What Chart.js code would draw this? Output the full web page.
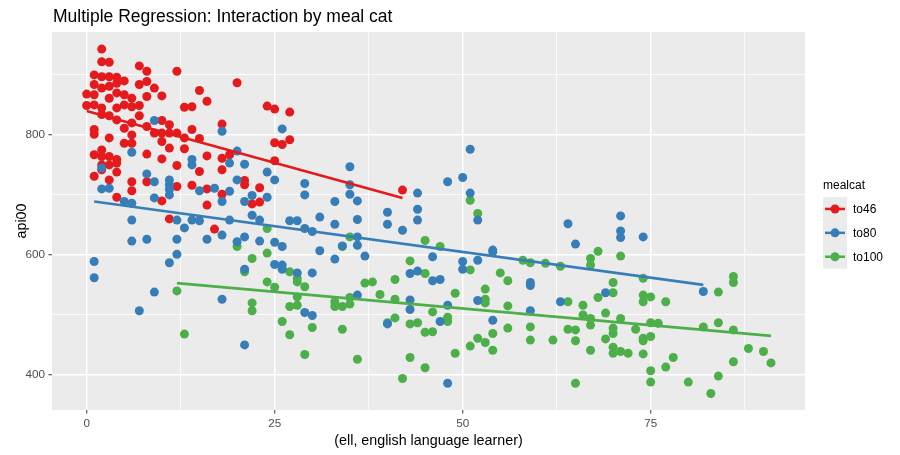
<!DOCTYPE html>
<html>
<head>
<meta charset="utf-8">
<title>Multiple Regression: Interaction by meal cat</title>
<script src="https://cdn.jsdelivr.net/npm/chart.js@4.4.0/dist/chart.umd.min.js"></script>
<style>
  html, body { margin: 0; padding: 0; background: #fff; }
  canvas { display: block; }
</style>
</head>
<body>
<canvas id="regChart" width="900" height="455"></canvas>
<script>
// api00 against ell (english language learners), one group per meal category
const groups = ['to46', 'to80', 'to100'];
const groupColors = ['#E41A1C', '#377EB8', '#4DAF4A'];

const to46Ell = [2, 2, 3, 7, 8, 12, 1, 2, 3, 4, 5, 7, 8, 9, 10, 8, 0, 0, 1, 1,
  1, 2, 3, 4, 4, 5, 6, 5, 6, 3, 2, 4, 7, 13, 7, 2, 3, 4, 10, 11,
  6, 5, 6, 8, 9, 10, 11, 12, 13, 1, 1, 3, 5, 6, 10, 11, 2, 1, 2, 3,
  4, 3, 4, 2, 8, 10, 12, 2, 4, 1, 3, 8, 6, 6, 4, 10,
  20, 15, 16, 14, 24, 25, 27, 14, 18, 15, 25, 26, 27, 13, 16, 18, 19, 18, 15, 25,
  12, 14, 16, 21, 21, 23, 18, 16, 22, 23, 11, 17, 42];
const to46Api = [942, 921, 920, 914, 905, 905, 899, 896, 896, 895, 889, 883, 888, 877, 864, 863, 867, 848, 883, 866,
  849, 877, 880, 885, 869, 866, 860, 849, 846, 860, 844, 844, 848, 845, 831, 833, 831, 824, 823, 816,
  819, 810, 799, 813, 802, 802, 802, 802, 794, 808, 800, 794, 785, 785, 788, 777, 774, 766, 763, 763,
  758, 749, 752, 749, 767, 759, 748, 741, 737, 730, 724, 721, 721, 706, 695, 689,
  886, 873, 855, 846, 847, 842, 837, 808, 817, 793, 786, 783, 791, 776, 764, 760, 766, 741, 738, 756,
  713, 715, 709, 723, 716, 711, 700, 682, 684, 687, 659, 642, 707];

const to80Ell = [9, 2, 8, 9, 11, 11, 11, 11, 2, 3, 9, 5, 6, 6,
  18, 26, 20, 14, 14, 19, 21, 24, 25, 20, 29, 17, 15, 19, 22, 24, 29, 18, 21,
  6, 12, 14, 15, 13, 19, 22, 23, 27, 28, 31, 29, 30, 6, 8, 12, 16, 18, 20, 21,
  23, 25, 26, 31, 1, 1, 12, 11, 21, 25, 26, 26, 28, 30, 9, 7, 18, 29, 30, 21,
  51, 35, 50, 48, 35, 35, 44, 33, 36, 51, 44, 40, 36, 44, 33, 40, 42, 52, 64, 36,
  36, 34, 54, 33, 37, 46, 43, 44, 46, 47, 50, 50, 52, 54, 59, 59, 36, 43, 43, 48,
  52, 59, 63, 47, 54, 40, 48, 71, 71, 71, 74, 65, 69, 82];
const to80Api = [823, 744, 734, 721, 724, 716, 708, 699, 709, 710, 694, 688, 685, 770,
  805, 809, 772, 758, 749, 752, 750, 737, 724, 724, 718, 710, 706, 705, 698, 695, 699, 688, 688,
  657, 657, 657, 656, 644, 657, 665, 657, 656, 656, 662, 643, 638, 622, 625, 625, 625, 632, 621, 629,
  622, 620, 613, 606, 588, 561, 600, 586, 575, 583, 582, 575, 569, 569, 537, 506, 525, 503, 498, 449,
  775, 746, 728, 721, 716, 700, 702, 688, 689, 702, 675, 670, 658, 657, 650, 650, 640, 657, 651, 629,
  615, 614, 607, 592, 597, 596, 568, 572, 556, 558, 588, 575, 590, 604, 553, 548, 532, 524, 508, 515,
  523, 506, 521, 488, 490, 484, 385, 664, 639, 628, 629, 617, 536, 538];

const to100Ell = [24, 20, 24, 22, 21, 27, 28, 28, 24, 25, 29, 12, 28, 22, 22, 27, 28, 26, 30, 27,
  13, 29, 51, 52, 35, 34, 45, 47,
  43, 45, 51, 55, 56, 58, 59, 61, 63, 37, 38, 41, 39, 49, 53, 33, 33, 34, 35, 35,
  41, 53, 53, 56, 46, 41, 40, 43, 44, 48, 48, 34, 45, 46, 54, 56, 59, 59, 62, 52,
  53, 51, 54, 49, 36, 43, 45, 42, 68, 67, 67, 71, 86,
  70, 70, 74, 86, 68, 64, 66, 74, 74, 75, 77, 84, 66, 67, 67, 69, 71, 64, 65, 70,
  70, 73, 75, 76, 82, 84, 86, 65, 69, 74, 74, 75, 67, 70, 70, 71, 72, 74, 88, 90,
  91, 86, 78, 75, 77, 84, 65, 75, 80, 83];
const to100Api = [643, 613, 602, 593, 571, 571, 560, 554, 554, 545, 546, 539, 529, 519, 506, 513, 515, 488, 478, 466,
  467, 433, 690, 668, 629, 613, 623, 613,
  589, 568, 574, 569, 556, 590, 586, 585, 580, 552, 554, 558, 533, 535, 542, 521, 513, 513, 528, 517,
  525, 525, 519, 514, 504, 494, 486, 484, 486, 495, 488, 475, 470, 471, 468, 477, 479, 457, 457, 460,
  453, 447, 440, 435, 425, 428, 411, 393, 605, 593, 582, 597, 563,
  553, 536, 560, 553, 528, 521, 515, 532, 521, 529, 521, 537, 499, 493, 482, 502, 493, 475, 474, 477,
  468, 475, 486, 485, 479, 486, 474, 456, 459, 460, 456, 463, 440, 445, 435, 438, 435, 434, 443, 438,
  419, 421, 428, 406, 412, 397, 385, 387, 387, 368];

// fitted lm lines (end points)
const to46FitEll = [0, 42];
const to46FitApi = [839, 694];
const to80FitEll = [1, 82];
const to80FitApi = [688, 549];
const to100FitEll = [12, 91];
const to100FitApi = [552, 464];

const xMajor = [0, 25, 50, 75];
const xMinor = [12.5, 37.5, 62.5, 87.5];
const yMajor = [400, 600, 800];
const yMinor = [500, 700, 900];

const FONT = '"Liberation Sans", Arial, sans-serif';

function toPoints(xs, ys) {
  return xs.map((x, i) => ({ x: x, y: ys[i] }));
}

function pointSet(label, xs, ys, color) {
  return {
    label: label,
    data: toPoints(xs, ys),
    backgroundColor: color,
    borderWidth: 0,
    pointRadius: 4.5,
    pointHoverRadius: 4.5,
    order: 1
  };
}

function lineSet(label, xs, ys, color) {
  return {
    label: label + ' fit',
    data: toPoints(xs, ys),
    showLine: true,
    borderColor: color,
    borderWidth: 2.6,
    pointRadius: 0,
    fill: false,
    order: 0
  };
}

function tickList(major, minor) {
  return major.concat(minor).sort((a, b) => a - b).map(v => ({ value: v }));
}

// panel background, title, axis titles and the legend (ggplot look)
const ggDecor = {
  id: 'ggDecor',
  beforeDraw(chart) {
    const { ctx, chartArea: a } = chart;
    ctx.save();
    ctx.fillStyle = '#EBEBEB';
    ctx.fillRect(a.left, a.top, a.right - a.left, a.bottom - a.top);
    ctx.restore();
  },
  afterDraw(chart) {
    const { ctx, chartArea: a } = chart;
    ctx.save();
    ctx.fillStyle = '#000';
    ctx.textAlign = 'left';
    ctx.textBaseline = 'alphabetic';
    ctx.font = '17.5px ' + FONT;
    ctx.fillText('Multiple Regression: Interaction by meal cat', a.left + 1, 21.5);

    ctx.font = '14.3px ' + FONT;
    ctx.textAlign = 'center';
    ctx.fillText('(ell, english language learner)', (a.left + a.right) / 2, 445);
    ctx.save();
    ctx.translate(26, (a.top + a.bottom) / 2);
    ctx.rotate(-Math.PI / 2);
    ctx.fillText('api00', 0, 0);
    ctx.restore();

    // legend
    ctx.textAlign = 'left';
    ctx.font = '12px ' + FONT;
    ctx.fillText('mealcat', 823, 189);
    const keyLeft = 823, keyTop = 197, keyW = 24, keyH = 23.9;
    ctx.fillStyle = '#EBEBEB';
    ctx.fillRect(keyLeft, keyTop, keyW, keyH * groups.length);
    groups.forEach((g, i) => {
      const cy = keyTop + keyH * i + keyH / 2;
      ctx.strokeStyle = groupColors[i];
      ctx.lineWidth = 2.5;
      ctx.beginPath();
      ctx.moveTo(keyLeft + 2, cy);
      ctx.lineTo(keyLeft + keyW - 2, cy);
      ctx.stroke();
      ctx.fillStyle = groupColors[i];
      ctx.beginPath();
      ctx.arc(keyLeft + keyW / 2, cy, 4.5, 0, Math.PI * 2);
      ctx.fill();
      ctx.fillStyle = '#000';
      ctx.textBaseline = 'middle';
      ctx.fillText(g, 853, cy + 0.5);
    });
    ctx.restore();
  }
};

const ctx = document.getElementById('regChart').getContext('2d');
const regChart = new Chart(ctx, {
  type: 'scatter',
  data: {
    datasets: [
      lineSet('to46', to46FitEll, to46FitApi, groupColors[0]),
      lineSet('to80', to80FitEll, to80FitApi, groupColors[1]),
      lineSet('to100', to100FitEll, to100FitApi, groupColors[2]),
      pointSet('to80', to80Ell, to80Api, groupColors[1]),
      pointSet('to46', to46Ell, to46Api, groupColors[0]),
      pointSet('to100', to100Ell, to100Api, groupColors[2])
    ]
  },
  options: {
    responsive: false,
    animation: false,
    layout: { padding: { left: 0, right: 95, top: 32, bottom: 0 } },
    plugins: {
      legend: { display: false },
      tooltip: { enabled: false },
      title: { display: false }
    },
    scales: {
      x: {
        type: 'linear',
        min: -4.61,
        max: 95.52,
        afterBuildTicks(scale) { scale.ticks = tickList(xMajor, xMinor); },
        afterFit(scale) { scale.height = 45; },
        border: { display: false },
        grid: {
          color: '#FFFFFF',
          lineWidth: c => (c.tick && xMajor.includes(c.tick.value)) ? 1.5 : 0.8,
          tickColor: c => (c.tick && xMajor.includes(c.tick.value)) ? '#333333' : 'rgba(0,0,0,0)',
          tickLength: 3.5,
          tickWidth: 1
        },
        ticks: {
          autoSkip: false,
          maxRotation: 0,
          padding: 3,
          color: '#4D4D4D',
          font: { family: FONT, size: 11.7 },
          callback: v => xMajor.includes(v) ? String(v) : ''
        }
      },
      y: {
        type: 'linear',
        min: 340.5,
        max: 970.5,
        afterBuildTicks(scale) { scale.ticks = tickList(yMajor, yMinor); },
        afterFit(scale) { scale.width = 52; },
        border: { display: false },
        grid: {
          color: '#FFFFFF',
          lineWidth: c => (c.tick && yMajor.includes(c.tick.value)) ? 1.5 : 0.8,
          tickColor: c => (c.tick && yMajor.includes(c.tick.value)) ? '#333333' : 'rgba(0,0,0,0)',
          tickLength: 3.5,
          tickWidth: 1
        },
        ticks: {
          padding: 3.5,
          color: '#4D4D4D',
          font: { family: FONT, size: 11.7 },
          callback: v => yMajor.includes(v) ? String(v) : ''
        }
      }
    }
  },
  plugins: [ggDecor]
});
</script>
</body>
</html>
